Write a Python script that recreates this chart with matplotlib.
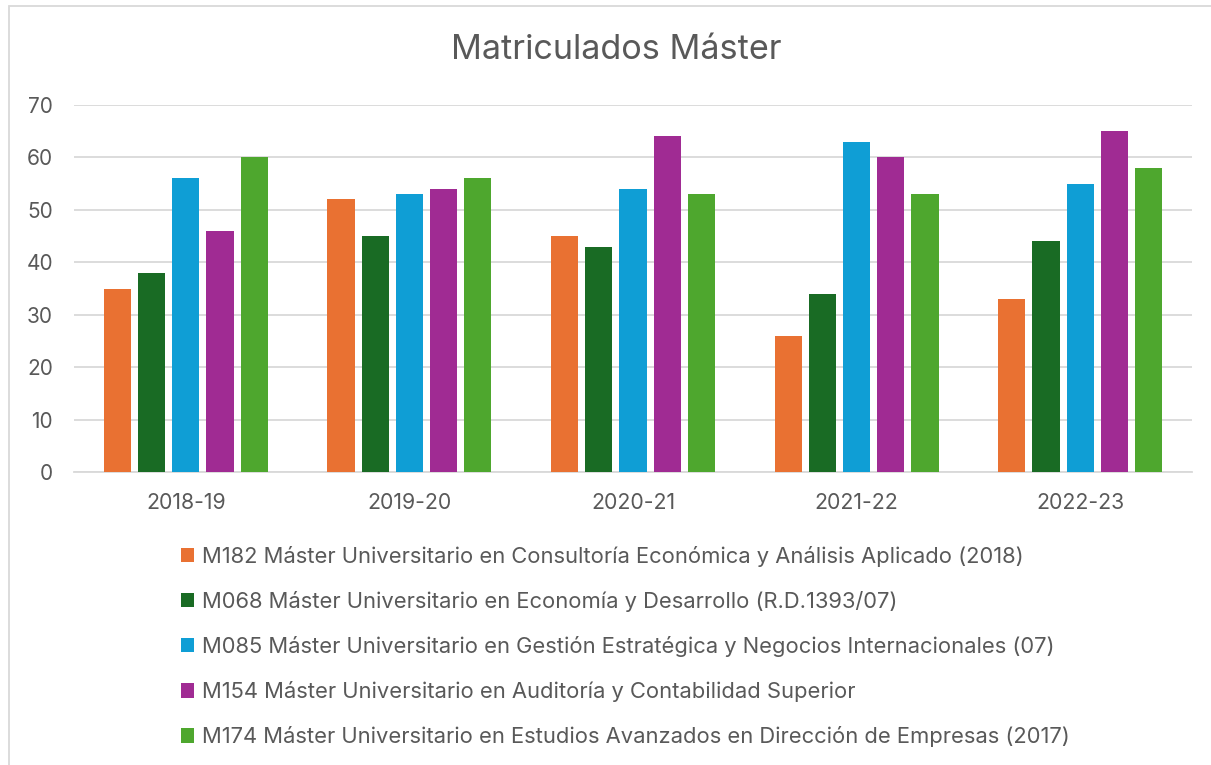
import matplotlib
matplotlib.use("Agg")
import matplotlib.pyplot as plt
from matplotlib.patches import Rectangle
import numpy as np

plt.rcParams["font.family"] = ["Inter", "DejaVu Sans"]

years = ["2018-19", "2019-20", "2020-21", "2021-22", "2022-23"]
series_names = [
    "M182 Máster Universitario en Consultoría Económica y Análisis Aplicado (2018)",
    "M068 Máster Universitario en Economía y Desarrollo (R.D.1393/07)",
    "M085 Máster Universitario en Gestión Estratégica y Negocios Internacionales (07)",
    "M154 Máster Universitario en Auditoría y Contabilidad Superior",
    "M174 Máster Universitario en Estudios Avanzados en Dirección de Empresas (2017)",
]
m182 = [35, 52, 45, 26, 33]
m068 = [38, 45, 43, 34, 44]
m085 = [56, 53, 54, 63, 55]
m154 = [46, 54, 64, 60, 65]
m174 = [60, 56, 53, 53, 58]
colors = ["#E97132", "#196B24", "#0F9ED5", "#A02B93", "#4EA72E"]

TXT = "#595959"
fig = plt.figure(figsize=(12.11, 7.65), dpi=100)
ax = fig.add_axes([74/1211, 1-472/765, (1192-74)/1211, (472-105)/765])

x = np.arange(len(years))
step = 0.153; w = 0.121
for i, (vals, name, c) in enumerate(zip([m182, m068, m085, m154, m174], series_names, colors)):
    ax.bar(x + (i - 2) * step, vals, w, color=c, label=name, zorder=3)

ax.set_xlim(-0.5, len(years) - 0.5)
ax.set_ylim(0, 70)
ax.set_yticks(range(0, 71, 10))
ax.set_xticks(x); ax.set_xticklabels(years)
ax.grid(axis="y", color="#D9D9D9", lw=1.3, zorder=0)
for s in ["top", "right", "left"]:
    ax.spines[s].set_visible(False)
ax.spines["bottom"].set_color("#D9D9D9"); ax.spines["bottom"].set_linewidth(1.3)
ax.tick_params(axis="y", length=0, pad=15, labelsize=15, labelcolor=TXT)
ax.tick_params(axis="x", length=0, pad=15, labelsize=15.3, labelcolor=TXT)

fig.text(616/1211, 1-50/765, "Matriculados Máster", ha="center", va="center", fontsize=24.6, color=TXT)

fig.legend(loc="upper left", bbox_to_anchor=(172/1211, 1-537/765), frameon=False,
           fontsize=15.8, labelcolor=TXT, handlelength=0.62, handleheight=0.62,
           handletextpad=0.35, labelspacing=1.1, borderaxespad=0)

fig.patches.append(Rectangle((9/1211, -0.1), 1.2, 1 - 6/765 + 0.1, transform=fig.transFigure,
                             fill=False, edgecolor="#D9D9D9", lw=1.3))

fig.savefig("out.png", dpi=100)
